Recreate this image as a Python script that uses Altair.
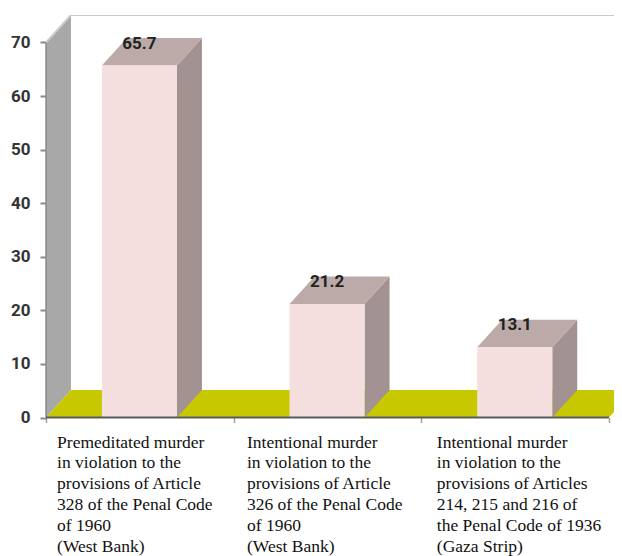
import altair as alt
import pandas as pd

values = [65.7, 21.2, 13.1]
value_labels = ["65.7", "21.2", "13.1"]
category_labels = [
    "Premeditated murder\nin violation to the\nprovisions of Article\n328 of the Penal Code\nof 1960\n(West Bank)",
    "Intentional  murder\nin violation to the\nprovisions of Article\n326 of the Penal Code\nof 1960\n(West Bank)",
    "Intentional murder\nin violation to the\nprovisions of Articles\n214, 215 and 216 of\nthe Penal Code of 1936\n(Gaza Strip)",
]
label_offsets = [0.059, 1.071, 2.083]
y_ticks = [0, 10, 20, 30, 40, 50, 60, 70]
x_ticks = [0, 1, 2, 3]

DX, DY = 0.133, 5.13     # 3-D depth in axis units
LEFT, BAR_W = 0.298, 0.4
X_MAX, Y_MAX = 3.027, 75.13
SANS = "Roboto"

xs = alt.Scale(domain=[0, X_MAX], nice=False, zero=False)
ys = alt.Scale(domain=[0, Y_MAX], nice=False, zero=False)
x_axis = alt.Axis(
    values=x_ticks, title=None, grid=False, domain=False, tickSize=5, tickColor="#A0A0A0",
    tickWidth=1.5, labels=False,
)
y_axis = alt.Axis(
    values=y_ticks, title=None, grid=False, domain=False, tickSize=6, tickColor="#8A8A8A",
    tickWidth=2, labelFont=SANS, labelFontSize=17, labelFontWeight="bold",
    labelColor="#333333", labelPadding=10,
)
X = alt.X("x:Q", scale=xs, axis=x_axis)
Y = alt.Y("y:Q", scale=ys, axis=y_axis, stack=None)
Y2 = alt.Y2("y2:Q")


def area(rows, color, clip=False):
    df = pd.DataFrame(rows, columns=["id", "x", "y", "y2"])
    return alt.Chart(df).mark_area(
        color=color, clip=clip, opacity=1, interpolate="linear", orient="vertical"
    ).encode(x=X, y=Y, y2=Y2, detail="id:N")


wall = area([(0, 0, 70, 0), (0, DX, 70 + DY, DY)], "#A8A8A8")
floor = area(
    [(0, 0, 0, 0), (0, DX, DY, 0), (0, 3, DY, 0), (0, 3 + DX, DY, DY)], "#C8C800", clip=True
)

side_rows, top_rows, front_rows = [], [], []
for i, v in enumerate(values):
    a = i + LEFT
    b = a + BAR_W
    side_rows += [(i, b, v, 0), (i, b + DX, v + DY, DY)]
    top_rows += [(i, a, v, v), (i, a + DX, v + DY, v), (i, b, v + DY, v), (i, b + DX, v + DY, v + DY)]
    front_rows.append({"x": a, "x2": b, "y": v, "y2": 0})

sides = area(side_rows, "#A29292")
tops = area(top_rows, "#BCAAA9")
fronts = alt.Chart(pd.DataFrame(front_rows)).mark_rect(color="#F4DFDE").encode(
    x=X, x2="x2:Q", y=Y, y2=Y2
)

edge_df = pd.DataFrame({"x": [0, DX, X_MAX], "y": [70, 70 + DY, 70 + DY]})
edge = alt.Chart(edge_df).mark_line(color="#CBCBCB", strokeWidth=2, clip=True).encode(x=X, y=Y, order="x:Q")

y_line = alt.Chart(pd.DataFrame({"x": [0], "y": [0], "y2": [70]})).mark_rule(color="#8A8A8A", strokeWidth=1.5).encode(
    x=X, y=Y, y2=Y2
)
x_line = alt.Chart(pd.DataFrame({"x": [0], "x2": [3], "y": [0]})).mark_rule(color="#5A5A5A", strokeWidth=2).encode(
    x=X, x2="x2:Q", y=Y
)

value_df = pd.DataFrame(
    {"x": [i + LEFT + BAR_W / 2 for i in range(3)], "y": values, "t": value_labels}
)
value_text = alt.Chart(value_df).mark_text(
    font=SANS, fontSize=17, fontWeight="bold", color="#222222", dy=-22, baseline="middle"
).encode(x=X, y=Y, text="t:N")

label_df = pd.DataFrame({"x": label_offsets, "y": [0, 0, 0], "t": category_labels})
label_text = alt.Chart(label_df).mark_text(
    font="Liberation Serif", fontSize=17.5, color="#111111", align="left", baseline="top",
    lineBreak="\n", lineHeight=20.8, dy=16,
).encode(x=X, y=Y, text="t:N")

chart = alt.layer(
    wall, floor, sides, tops, fronts, edge, y_line, x_line, value_text, label_text
).properties(
    width=568,
    height=402.5,
    padding={"left": 38, "top": 7, "right": 0, "bottom": 138.5},
    autosize=alt.AutoSizeParams(type="none"),
).configure_view(stroke=None).configure_axis(labelOverlap=False)

chart.save("out.html", embed_options={"renderer": "svg", "actions": False})
